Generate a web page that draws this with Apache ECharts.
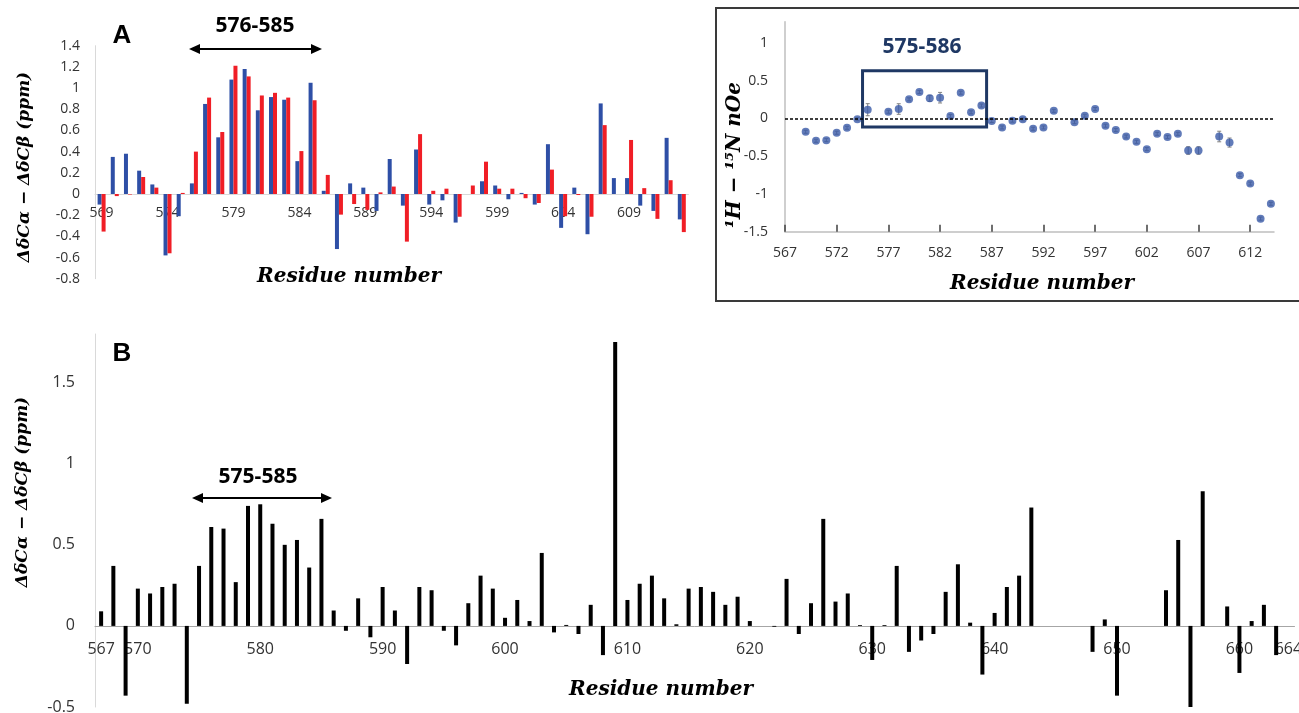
<!DOCTYPE html>
<html>
<head>
<meta charset="utf-8">
<script src="https://cdn.jsdelivr.net/npm/echarts@6/dist/echarts.min.js"></script>
<style>
  html, body { margin: 0; padding: 0; background: #fff; }
  #chart { width: 1299px; height: 713px; }
</style>
</head>
<body>
<div id="chart"></div>
<script>
// panel A: ΔδCα − ΔδCβ, two data sets (blue / red), residues 569-613
const residuesA = []
for (let r = 569; r <= 613; r++) residuesA.push(String(r))
const blueA = [
  -0.10, 0.35, 0.38, 0.22, 0.09, -0.58, -0.21, 0.10, 0.85, 0.535,
  1.08, 1.18, 0.79, 0.915, 0.89, 0.31, 1.05, 0.03, -0.52, 0.10,
  0.06, -0.16, 0.33, -0.11, 0.42, -0.10, -0.06, -0.27, null, 0.12,
  0.08, -0.05, 0.01, -0.10, 0.47, -0.32, 0.06, -0.38, 0.855, 0.15,
  0.15, -0.11, -0.16, 0.53, -0.24
]
const redA = [
  -0.355, -0.02, -0.005, 0.16, 0.06, -0.56, 0.01, 0.40, 0.91, 0.585,
  1.21, 1.11, 0.93, 0.955, 0.91, 0.405, 0.885, 0.18, -0.195, -0.095,
  -0.15, 0.015, 0.07, -0.45, 0.565, 0.03, 0.05, -0.215, 0.08, 0.305,
  0.05, 0.05, -0.04, -0.085, 0.23, -0.21, -0.01, -0.215, 0.65, null,
  0.51, 0.055, -0.235, 0.13, -0.36
]

// panel B: ΔδCα − ΔδCβ, residues 567-664
const residuesB = []
for (let r = 567; r <= 664; r++) residuesB.push(String(r))
const ticksB = ['567', '570', '580', '590', '600', '610', '620', '630', '640', '650', '660', '664']
const valuesB = [
  0.09, 0.37, -0.43, 0.23, 0.20, 0.24, 0.26, -0.48, 0.37, 0.61,
  0.60, 0.27, 0.74, 0.75, 0.63, 0.50, 0.53, 0.36, 0.66, 0.095,
  -0.03, 0.17, -0.07, 0.24, 0.095, -0.235, 0.24, 0.22, -0.03, -0.12,
  0.14, 0.31, 0.23, 0.05, 0.16, 0.03, 0.45, -0.04, 0.006, -0.05,
  0.13, -0.18, 1.75, 0.16, 0.26, 0.31, 0.17, 0.01, 0.23, 0.24,
  0.21, 0.13, 0.18, 0.03, null, -0.005, 0.29, -0.05, 0.14, 0.66,
  0.15, 0.20, 0.005, -0.21, 0.005, 0.37, -0.16, -0.09, -0.05, 0.21,
  0.38, 0.02, -0.30, 0.08, 0.24, 0.31, 0.73, null, null, null,
  null, -0.16, 0.04, -0.43, null, null, null, 0.22, 0.53, -0.51,
  0.83, null, 0.12, -0.29, 0.03, 0.13, -0.18, null
]

// inset: 1H-15N nOe
const nohResidues = [
  569, 570, 571, 572, 573, 574, 575, 577, 578, 579,
  580, 581, 582, 583, 584, 585, 586, 587, 588, 589,
  590, 591, 592, 593, 595, 596, 597, 598, 599, 600,
  601, 602, 603, 604, 605, 606, 607, 609, 610, 611,
  612, 613, 614
]
const nohValues = [
  -0.177, -0.296, -0.288, -0.19, -0.124, -0.01, 0.115, 0.088, 0.124, 0.252,
  0.35, 0.265, 0.274, 0.03, 0.34, 0.08, 0.17, -0.035, -0.12, -0.03,
  -0.013, -0.137, -0.12, 0.10, -0.05, 0.035, 0.124, -0.097, -0.155, -0.24,
  -0.31, -0.407, -0.204, -0.248, -0.204, -0.425, -0.425, -0.24, -0.32, -0.752,
  -0.863, -1.327, -1.13
]
const nohErrors = [
  0.02, 0.02, 0.02, 0.02, 0.02, 0.02, 0.08, 0.02, 0.07, 0.02,
  0.02, 0.04, 0.07, 0.02, 0.02, 0.02, 0.02, 0.02, 0.02, 0.02,
  0.02, 0.02, 0.02, 0.02, 0.02, 0.02, 0.02, 0.02, 0.02, 0.02,
  0.02, 0.02, 0.02, 0.02, 0.02, 0.05, 0.05, 0.07, 0.06, 0.02,
  0.02, 0.02, 0.02
]
const nohTicksX = [567, 572, 577, 582, 587, 592, 597, 602, 607, 612]
const nohTicksY = [-1.5, -1, -0.5, 0, 0.5, 1]

const SANS = 'Open Sans'
const SERIF = 'DejaVu Serif'
const labelStyle = { color: '#333', fontFamily: SANS, fontSize: 14 }

// grid heights and y ranges, used to lift the category axes onto y = 0
const gridA = { left: 95, top: 45.7, width: 593.4, height: 233 }
const gridB = { left: 95, top: 334, width: 1199.5, height: 373 }
const gridC = { left: 785, top: 21.7, width: 489, height: 210 }
const rangeA = [-0.8, 1.4]
const rangeB = [-0.5, 1.8]

function zeroOffset(range, h) {
  return -(0 - range[0]) / (range[1] - range[0]) * h
}

function arrow(x1, x2, y) {
  const st = { fill: '#000' }
  return [
    { type: 'line', shape: { x1: x1 + 6, y1: y, x2: x2 - 6, y2: y }, style: { stroke: '#000', lineWidth: 2 } },
    { type: 'polygon', shape: { points: [[x1, y], [x1 + 11, y - 5], [x1 + 11, y + 5]] }, style: st },
    { type: 'polygon', shape: { points: [[x2, y], [x2 - 11, y - 5], [x2 - 11, y + 5]] }, style: st }
  ]
}

function text(str, x, y, font, opts, color) {
  return Object.assign({
    type: 'text', x: x, y: y,
    style: { text: str, font: font, fill: color || '#000', align: 'center', verticalAlign: 'middle' }
  }, opts || {})
}

const chart = echarts.init(document.getElementById('chart'))

const gridBase = { outerBoundsMode: 'none', containLabel: false }

const option = {
  animation: false,
  backgroundColor: '#fff',
  grid: [
    Object.assign({}, gridBase, gridA),
    Object.assign({}, gridBase, gridB),
    Object.assign({}, gridBase, gridC)
  ],
  xAxis: [
    {
      type: 'category', gridIndex: 0, data: residuesA,
      offset: zeroOffset(rangeA, gridA.height),
      axisLine: { onZero: false, lineStyle: { color: '#d9d9d9', width: 1 } },
      axisTick: { show: false },
      axisLabel: Object.assign({ interval: 4, margin: 12 }, labelStyle),
      splitLine: { show: false }
    },
    {
      type: 'category', gridIndex: 1, data: residuesB,
      offset: zeroOffset(rangeB, gridB.height),
      axisLine: { onZero: false, lineStyle: { color: '#a6a6a6', width: 1 } },
      axisTick: { show: false },
      axisLabel: Object.assign({}, labelStyle, {
        fontSize: 16, margin: 16,
        interval: (idx, val) => ticksB.indexOf(val) >= 0
      }),
      splitLine: { show: false }
    },
    {
      type: 'value', gridIndex: 2, min: 567, max: 614.3,
      axisLine: { onZero: false, lineStyle: { color: '#bfbfbf', width: 1.5 } },
      axisTick: { inside: true, length: 7, customValues: nohTicksX, lineStyle: { color: '#404040', width: 1.5 } },
      axisLabel: Object.assign({ customValues: nohTicksX, margin: 14 }, labelStyle),
      splitLine: { show: false }
    }
  ],
  yAxis: [
    {
      type: 'value', gridIndex: 0, min: rangeA[0], max: rangeA[1], interval: 0.2,
      axisLine: { show: true, lineStyle: { color: '#d9d9d9', width: 1 } },
      axisTick: { show: false },
      axisLabel: Object.assign({ margin: 15 }, labelStyle),
      splitLine: { show: false }
    },
    {
      type: 'value', gridIndex: 1, min: rangeB[0], max: rangeB[1],
      axisLine: { show: true, lineStyle: { color: '#d9d9d9', width: 1 } },
      axisTick: { show: false },
      axisLabel: Object.assign({ margin: 20, customValues: [-0.5, 0, 0.5, 1, 1.5] }, labelStyle, { fontSize: 16 }),
      splitLine: { show: false }
    },
    {
      type: 'value', gridIndex: 2, min: -1.5, max: 1.28,
      axisLine: { show: true, lineStyle: { color: '#bfbfbf', width: 1.5 } },
      axisTick: { show: false },
      axisLabel: Object.assign({ margin: 17, customValues: nohTicksY }, labelStyle),
      splitLine: { show: false }
    }
  ],
  series: [
    {
      type: 'bar', xAxisIndex: 0, yAxisIndex: 0, data: blueA,
      barWidth: 4, barGap: '0%', itemStyle: { color: '#2E4FA6' }
    },
    {
      type: 'bar', xAxisIndex: 0, yAxisIndex: 0, data: redA,
      barWidth: 4, barGap: '0%', itemStyle: { color: '#F01E26' }
    },
    {
      type: 'bar', xAxisIndex: 1, yAxisIndex: 1, data: valuesB,
      barWidth: 4, itemStyle: { color: '#000' }
    },
    {
      type: 'custom', xAxisIndex: 2, yAxisIndex: 2, z: 1,
      data: nohResidues.map((r, i) => [r, nohValues[i], nohErrors[i]]),
      renderItem(params, api) {
        const x = api.value(0), y = api.value(1), e = api.value(2)
        const top = api.coord([x, y + e])
        const bot = api.coord([x, y - e])
        const st = { stroke: '#808080', lineWidth: 1 }
        return {
          type: 'group',
          children: [
            { type: 'line', shape: { x1: top[0], y1: top[1], x2: bot[0], y2: bot[1] }, style: st },
            { type: 'line', shape: { x1: top[0] - 2, y1: top[1], x2: top[0] + 2, y2: top[1] }, style: st },
            { type: 'line', shape: { x1: bot[0] - 2, y1: bot[1], x2: bot[0] + 2, y2: bot[1] }, style: st }
          ]
        }
      }
    },
    {
      type: 'scatter', xAxisIndex: 2, yAxisIndex: 2, z: 3,
      data: nohResidues.map((r, i) => [r, nohValues[i]]),
      symbolSize: 8,
      itemStyle: { color: '#3A5AA8' },
      markLine: {
        silent: true, symbol: 'none', label: { show: false },
        lineStyle: { color: '#000', type: [3, 2], width: 1.5 },
        data: [{ yAxis: 0 }]
      },
      markArea: {
        silent: true, label: { show: false },
        itemStyle: { color: 'rgba(0,0,0,0)', borderColor: '#1F3864', borderWidth: 3 },
        data: [[{ coord: [574.5, 0.63] }, { coord: [586.5, -0.115] }]]
      }
    }
  ],
  graphic: [
    // inset frame
    { type: 'rect', shape: { x: 716, y: 8, width: 600, height: 293 }, style: { fill: 'none', stroke: '#3a3a3a', lineWidth: 2 }, z: 10 },
    // panel letters
    text('A', 122, 36, 'bold 26px "Liberation Sans"'),
    text('B', 122, 354, 'bold 26px "Liberation Sans"'),
    // region labels and arrows
    text('576-585', 255, 26, 'bold 21px "' + SANS + '"'),
    ...arrow(189, 322, 49),
    text('575-585', 258, 477, 'bold 21px "' + SANS + '"'),
    ...arrow(192, 332, 498),
    text('575-586', 922, 47, 'bold 21px "' + SANS + '"', null, '#1F3864'),
    // axis titles
    text('Residue number', 349, 277, 'italic bold 20px "' + SERIF + '"'),
    text('Residue number', 661, 690, 'italic bold 20px "' + SERIF + '"'),
    text('Residue number', 1042, 284, 'italic bold 20px "' + SERIF + '"'),
    text('ΔδCα − ΔδCβ (ppm)', 25, 167, 'italic bold 17px "' + SERIF + '"', { rotation: Math.PI / 2 }),
    text('ΔδCα − ΔδCβ (ppm)', 23, 492, 'italic bold 17px "' + SERIF + '"', { rotation: Math.PI / 2 }),
    text('¹H − ¹⁵N nOe', 735, 155, 'italic bold 20px "' + SERIF + '"', { rotation: Math.PI / 2 })
  ]
}

chart.setOption(option)
</script>
</body>
</html>
